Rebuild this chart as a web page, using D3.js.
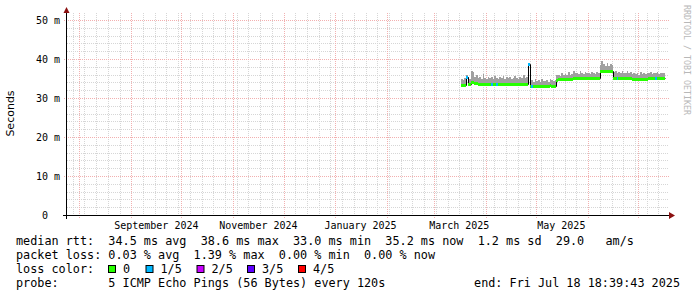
<!DOCTYPE html>
<html>
<head>
<meta charset="utf-8">
<script src="https://cdn.jsdelivr.net/npm/d3@7"></script>
<style>
body { margin: 0; background: #fff; }
svg text { font-family: "DejaVu Sans Mono", monospace; white-space: pre; }
</style>
</head>
<body>
<svg id="chart" width="697" height="297"></svg>
<script>
// daily samples starting Mar 17 2025
var firstSample = Date.UTC(2025, 2, 17);
var median = [33.3, 33.3, 33.3, 35.5, 33.5, 33.5, 34.0, 34.1, 33.8, 33.8,
  33.6, 33.6, 33.7, 33.6, 33.6, 33.6, 33.5, 33.6, 33.6, 33.6,
  33.7, 33.6, 33.6, 33.6, 33.5, 33.6, 33.6, 33.7, 33.6, 33.6,
  33.6, 33.6, 33.5, 33.6, 33.6, 33.7, 33.6, 33.6, 33.6, 33.6,
  38.6, 33.2, 33.0, 33.0, 33.0, 33.0, 33.0, 33.0, 33.0, 33.0,
  33.0, 33.0, 33.0, 33.4, 33.1, 33.1, 33.1, 34.6, 34.8, 34.8,
  34.8, 34.8, 34.8, 34.8, 34.8, 34.8, 34.8, 35.1, 35.1, 35.1,
  35.1, 35.1, 35.1, 35.1, 35.1, 35.1, 35.1, 35.1, 35.1, 35.1,
  35.1, 35.1, 35.1, 37.0, 37.0, 37.0, 37.0, 37.0, 37.0, 37.0,
  37.0, 35.2, 35.2, 35.2, 35.2, 35.2, 35.2, 35.2, 35.2, 35.2,
  35.2, 35.2, 34.8, 34.8, 34.8, 34.8, 34.8, 34.8, 34.8, 34.8,
  34.8, 34.8, 35.1, 35.1, 35.1, 35.1, 35.1, 35.1, 35.1, 35.1,
  35.1, 35.2];
var smokeTop = [35.0, 34.6, 35.2, 36.0, 35.4, 35.0, 37.0, 36.6, 35.3, 35.9,
  35.1, 35.4, 35.0, 36.2, 35.2, 35.0, 35.5, 35.1, 35.3, 34.9,
  35.6, 35.2, 35.0, 35.4, 35.1, 35.7, 35.0, 35.3, 35.1, 35.5,
  35.0, 35.2, 35.6, 35.1, 35.0, 35.4, 35.2, 35.8, 35.1, 35.3,
  38.8, 36.0, 34.5, 34.2, 34.8, 34.3, 34.6, 34.2, 34.9, 34.4,
  34.3, 34.7, 34.2, 35.0, 34.5, 34.4, 34.6, 35.8, 36.0, 35.7,
  36.3, 35.9, 36.1, 35.8, 36.6, 36.0, 36.2, 36.9, 36.3, 36.5,
  36.1, 36.8, 36.4, 36.2, 36.7, 36.3, 36.5, 36.1, 36.6, 36.3,
  36.2, 36.7, 36.4, 38.4, 39.5, 38.6, 38.2, 38.9, 38.3, 38.7,
  38.4, 36.6, 36.9, 36.4, 36.7, 36.3, 36.9, 36.5, 36.4, 36.8,
  36.3, 36.6, 36.2, 36.5, 36.1, 36.4, 36.0, 36.6, 36.2, 36.3,
  36.1, 36.5, 36.4, 36.7, 36.2, 36.5, 36.3, 36.6, 36.2, 36.4,
  36.3, 36.5];
var lossCount = [0, 0, 0, 1, 0, 0, 0, 0, 0, 0,
  0, 0, 0, 0, 0, 0, 0, 0, 1, 0,
  0, 1, 0, 0, 0, 0, 0, 0, 0, 0,
  0, 0, 0, 0, 0, 0, 0, 0, 0, 0,
  1, 0, 1, 0, 0, 0, 0, 0, 0, 0,
  0, 0, 0, 0, 0, 0, 0, 0, 0, 0,
  0, 0, 0, 0, 0, 0, 0, 0, 0, 0,
  0, 0, 0, 0, 0, 0, 0, 0, 0, 0,
  0, 0, 0, 0, 0, 0, 0, 0, 0, 0,
  0, 0, 0, 1, 0, 0, 0, 0, 0, 0,
  0, 0, 0, 0, 0, 0, 0, 0, 0, 0,
  0, 0, 0, 0, 0, 0, 1, 0, 0, 0,
  0, 0];

var yTicks = [0, 10, 20, 30, 40, 50];
var monthLabels = ["September 2024", "November 2024", "January 2025", "March 2025", "May 2025"];
var lossNames = ["0", "1/5", "2/5", "3/5", "4/5"];
var lossColors = ["#26ff00", "#00b8ff", "#c800ff", "#5e00ff", "#ff0000"];
var legendLines = [
  "median rtt:  34.5 ms avg  38.6 ms max  33.0 ms min  35.2 ms now  1.2 ms sd  29.0   am/s",
  "packet loss: 0.03 % avg  1.39 % max  0.00 % min  0.00 % now",
  "loss color:",
  "probe:       5 ICMP Echo Pings (56 Bytes) every 120s"
];
var endText = "end: Fri Jul 18 18:39:43 2025";

var svg = d3.select("#chart");
var plotL = 67, plotR = 669, plotT = 13, plotB = 215;

var x = d3.scaleUtc()
  .domain([new Date(Date.UTC(2024, 6, 24, 15)), new Date(Date.UTC(2025, 6, 19, 8))])
  .range([plotL, plotR]);
var y = d3.scaleLinear().domain([0, 51.8]).range([plotB, plotT]);

var samples = median.map(function(m, i) {
  var t0 = d3.utcDay.offset(new Date(firstSample), i);
  return { t0: t0, t1: d3.utcDay.offset(t0, 1), med: m, hi: smokeTop[i], loss: lossCount[i] };
});

function px(v) { return Math.round(v) + 0.5; }

// grid
var grid = svg.append("g");
var tStart = x.domain()[0], tEnd = x.domain()[1];
var minorCol = "#d6d6d6", majorCol = "#f2b0b0";
d3.utcSunday.range(tStart, tEnd).forEach(function(d) {
  grid.append("line").attr("x1", px(x(d))).attr("x2", px(x(d)))
    .attr("y1", plotT).attr("y2", plotB)
    .attr("stroke", minorCol).attr("stroke-dasharray", "1,1");
});
d3.range(2, 52, 2).filter(function(v) { return v % 10 != 0; }).forEach(function(v) {
  grid.append("line").attr("x1", plotL).attr("x2", plotR)
    .attr("y1", px(y(v))).attr("y2", px(y(v)))
    .attr("stroke", minorCol).attr("stroke-dasharray", "1,1");
});
d3.utcMonth.range(tStart, tEnd).forEach(function(d) {
  grid.append("line").attr("x1", px(x(d))).attr("x2", px(x(d)))
    .attr("y1", plotT).attr("y2", plotB + 3)
    .attr("stroke", majorCol).attr("stroke-dasharray", "1,1");
});
yTicks.forEach(function(v) {
  grid.append("line").attr("x1", plotL - 3).attr("x2", plotR)
    .attr("y1", px(y(v))).attr("y2", px(y(v)))
    .attr("stroke", majorCol).attr("stroke-dasharray", "1,1");
});

// smoke above the median
svg.append("g").selectAll("rect").data(samples).enter().append("rect")
  .attr("x", function(d) { return Math.round(x(d.t0)); })
  .attr("width", function(d) { return Math.round(x(d.t1)) - Math.round(x(d.t0)); })
  .attr("y", function(d) { return Math.round(y(d.hi)); })
  .attr("height", function(d) { return Math.round(y(d.med)) - Math.round(y(d.hi)); })
  .attr("fill", "#a0a0a0");

// median as black step line
var stepLine = d3.line()
  .x(function(d) { return px(x(d.t)); })
  .y(function(d) { return px(y(d.v)); })
  .curve(d3.curveStepAfter);
var pts = samples.map(function(d) { return { t: d.t0, v: d.med }; });
pts.push({ t: samples[samples.length - 1].t1, v: samples[samples.length - 1].med });
svg.append("path").attr("d", stepLine(pts))
  .attr("fill", "none").attr("stroke", "#000").attr("stroke-width", 1);

// median band coloured by loss
svg.append("g").selectAll("rect").data(samples).enter().append("rect")
  .attr("x", function(d) { return Math.round(x(d.t0)); })
  .attr("width", function(d) { return Math.round(x(d.t1)) - Math.round(x(d.t0)); })
  .attr("y", function(d) { return Math.round(y(d.med)) - 1; })
  .attr("height", 3)
  .attr("fill", function(d) { return lossColors[d.loss]; });

// axes
svg.append("line").attr("x1", plotL - 4).attr("x2", plotR + 2)
  .attr("y1", plotB + 0.5).attr("y2", plotB + 0.5).attr("stroke", "#000");
svg.append("line").attr("x1", plotL - 0.5).attr("x2", plotL - 0.5)
  .attr("y1", plotB + 4).attr("y2", 9).attr("stroke", "#000");
svg.append("path").attr("d", "M669,212L675,215.5L669,219Z").attr("fill", "#8b1010");
svg.append("path").attr("d", "M63.5,13L66.5,7L69.5,13Z").attr("fill", "#8b1010");

// y labels
yTicks.forEach(function(v) {
  svg.append("text").attr("x", 48).attr("y", y(v) + 3.5)
    .attr("text-anchor", "end").attr("font-size", 10).text(v);
  if (v > 0) svg.append("text").attr("x", 54).attr("y", y(v) + 3.5)
    .attr("font-size", 10).text("m");
});

// x labels, centred mid month
var labelMonths = d3.utcMonth.every(2).range(tStart, tEnd).slice(0, monthLabels.length);
labelMonths.forEach(function(d, i) {
  svg.append("text").attr("x", x(d3.utcDay.offset(d, 15))).attr("y", 229)
    .attr("text-anchor", "middle").attr("font-size", 10).text(monthLabels[i]);
});

svg.append("text").attr("transform", "translate(14,113.5) rotate(-90)")
  .attr("text-anchor", "middle").attr("font-size", 11)
  .style("font-family", "'DejaVu Sans', sans-serif").text("Seconds");

svg.append("text").attr("transform", "translate(684,5) rotate(90)")
  .attr("font-size", 8.3).attr("fill", "#b8b8b8").text("RRDTOOL / TOBI OETIKER");

// legend
legendLines.forEach(function(s, i) {
  svg.append("text").attr("x", 16).attr("y", 245 + i * 14)
    .attr("font-size", 11.8).text(s);
});
svg.append("text").attr("x", 680).attr("y", 287).attr("text-anchor", "end")
  .attr("font-size", 11.8).text(endText);
var swatchX = [108, 145.5, 196.5, 247, 298];
lossNames.forEach(function(n, i) {
  svg.append("rect").attr("x", swatchX[i] + 0.5).attr("y", 265.5)
    .attr("width", 7).attr("height", 7)
    .attr("fill", lossColors[i]).attr("stroke", "#000");
  svg.append("text").attr("x", swatchX[i] + 15).attr("y", 273)
    .attr("font-size", 11.8).text(n);
});
</script>
</body>
</html>
